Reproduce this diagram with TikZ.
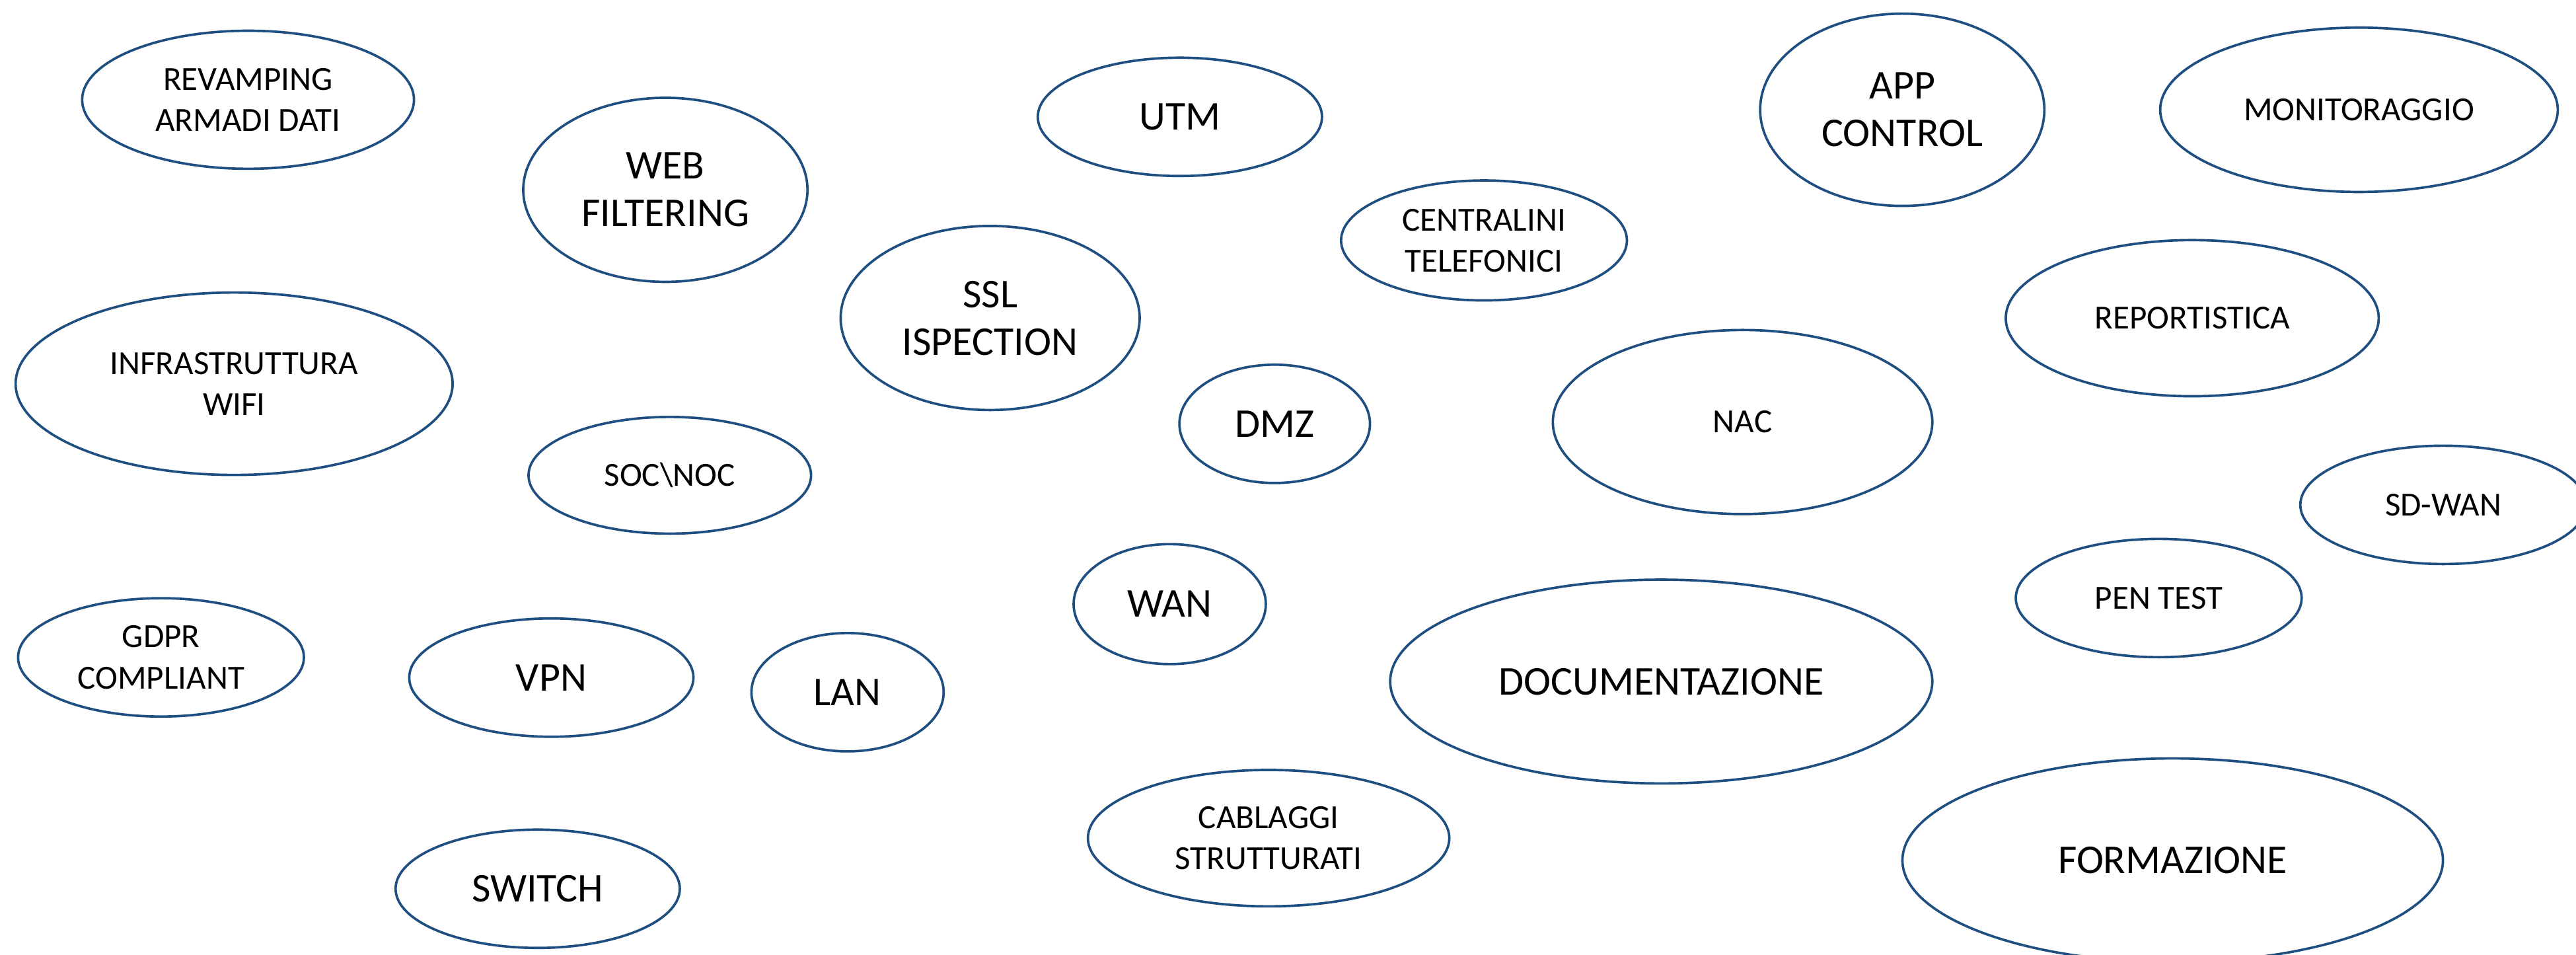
\documentclass[tikz,border=0pt]{standalone}
\usepackage{fontspec}
\setmainfont{Carlito}
\usetikzlibrary{shapes.geometric}
\definecolor{ellblue}{HTML}{1F4E80}
\tikzset{
  bubble/.style={ellipse, draw=ellblue, line width=1.05pt, fill=white, inner sep=0pt, align=center, text=black},
  smalltxt/.style={font=\fontsize{14.6}{17.8}\selectfont},
  bigtxt/.style={font=\fontsize{17.7}{20.6}\selectfont},
}
\begin{document}
\begin{tikzpicture}[x=0.025cm,y=-0.025cm]
\useasboundingbox (0,0) rectangle (1568,581);
\node[bubble,smalltxt,minimum width=202*0.025cm,minimum height=84*0.025cm] (revamping) at (151,60.7) {REVAMPING\\ARMADI DATI};
\node[bubble,bigtxt,minimum width=173*0.025cm,minimum height=112*0.025cm] (web) at (405,115.5) {WEB\\FILTERING};
\node[bubble,bigtxt,minimum width=173*0.025cm,minimum height=72*0.025cm] (utm) at (718.2,71.1) {UTM};
\node[bubble,bigtxt,minimum width=173*0.025cm,minimum height=117*0.025cm] (app) at (1157.9,66.8) {APP\\CONTROL};
\node[bubble,smalltxt,minimum width=242*0.025cm,minimum height=100*0.025cm] (monit) at (1435.9,66.8) {MONITORAGGIO};
\node[bubble,smalltxt,minimum width=174*0.025cm,minimum height=73*0.025cm] (centr) at (903.3,146.3) {CENTRALINI\\TELEFONICI};
\node[bubble,bigtxt,minimum width=182*0.025cm,minimum height=112*0.025cm] (ssl) at (602.7,193.5) {SSL\\ISPECTION};
\node[bubble,smalltxt,minimum width=266*0.025cm,minimum height=111*0.025cm] (wifi) at (142.5,233.5) {INFRASTRUTTURA\\WIFI};
\node[bubble,smalltxt,minimum width=227*0.025cm,minimum height=95*0.025cm] (report) at (1334.4,193.6) {REPORTISTICA};
\node[bubble,bigtxt,minimum width=116*0.025cm,minimum height=72*0.025cm] (dmz) at (775.9,257.9) {DMZ};
\node[bubble,smalltxt,minimum width=231*0.025cm,minimum height=112*0.025cm] (nac) at (1060.7,256.8) {NAC};
\node[bubble,smalltxt,minimum width=172*0.025cm,minimum height=71*0.025cm] (soc) at (407.7,289.2) {SOC\textbackslash NOC};
\node[bubble,smalltxt,minimum width=174*0.025cm,minimum height=72*0.025cm] (sdwan) at (1487.2,307.2) {SD-WAN};
\node[bubble,bigtxt,minimum width=117*0.025cm,minimum height=73*0.025cm] (wan) at (712,367.6) {WAN};
\node[bubble,smalltxt,minimum width=174*0.025cm,minimum height=72*0.025cm] (pen) at (1314,363.9) {PEN TEST};
\node[bubble,smalltxt,minimum width=174*0.025cm,minimum height=72*0.025cm] (gdpr) at (98,400) {GDPR\\COMPLIANT};
\node[bubble,bigtxt,minimum width=173*0.025cm,minimum height=72*0.025cm] (vpn) at (335.6,412.3) {VPN};
\node[bubble,bigtxt,minimum width=117*0.025cm,minimum height=72*0.025cm] (lan) at (515.9,421.2) {LAN};
\node[bubble,bigtxt,minimum width=330*0.025cm,minimum height=124*0.025cm] (doc) at (1011.2,414.7) {DOCUMENTAZIONE};
\node[bubble,smalltxt,minimum width=220*0.025cm,minimum height=83*0.025cm] (cabl) at (772.2,510) {CABLAGGI\\STRUTTURATI};
\node[bubble,bigtxt,minimum width=173*0.025cm,minimum height=72*0.025cm] (switch) at (327.3,540.8) {SWITCH};
\node[bubble,bigtxt,minimum width=329*0.025cm,minimum height=124*0.025cm] (form) at (1322.5,523.5) {FORMAZIONE};
\end{tikzpicture}
\end{document}
